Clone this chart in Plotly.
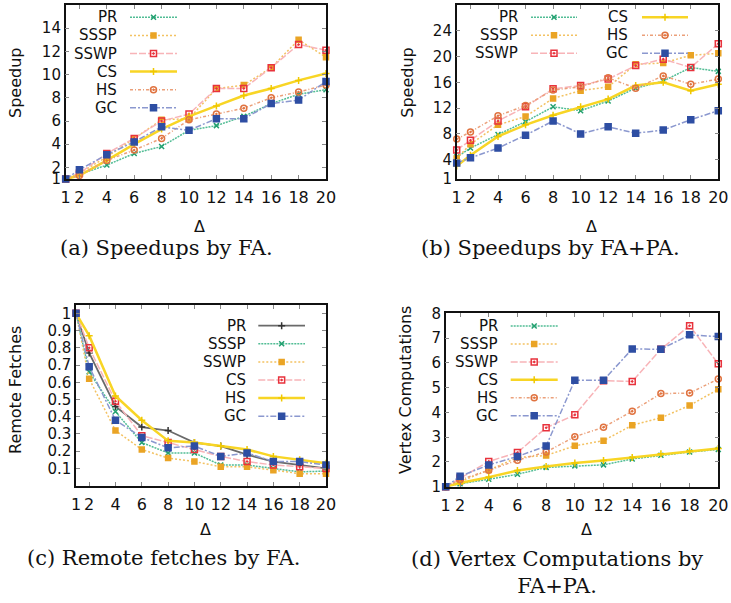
import plotly.graph_objects as go

W, H = 731, 603
delta = [1, 2, 4, 6, 8, 10, 12, 14, 16, 18, 20]
names_std = ["PR", "SSSP", "SSWP", "CS", "HS", "GC"]

# (a) Speedups by FA
a_PR = [1, 1.4, 2.2, 3.2, 3.8, 5.2, 5.6, 6.4, 7.5, 8.3, 8.7]
a_SSSP = [1, 1.5, 2.9, 4.5, 6.1, 6.2, 8.8, 9.1, 10.6, 13.0, 11.5]
a_SSWP = [1, 1.5, 3.2, 4.5, 6.0, 6.6, 8.8, 8.8, 10.6, 12.6, 12.1]
a_CS = [1, 1.3, 2.6, 4.0, 5.3, 6.4, 7.3, 8.2, 8.8, 9.5, 10.1]
a_HS = [1, 1.3, 2.6, 3.5, 4.5, 6.1, 6.6, 7.1, 8.0, 8.5, 9.1]
a_GC = [1, 1.8, 3.1, 4.2, 5.5, 5.2, 6.2, 6.2, 7.5, 7.8, 9.4]

# (b) Speedups by FA+PA
b_PR = [4.4, 5.8, 7.9, 9.9, 12.2, 11.6, 13.1, 15.1, 16.2, 18.3, 17.7]
b_SSSP = [4.2, 6.4, 9.4, 10.7, 13.5, 14.7, 15.3, 18.8, 19.0, 20.2, 20.5]
b_SSWP = [5.5, 7.0, 10.0, 12.2, 15.0, 15.5, 16.5, 18.6, 19.6, 18.3, 22.0]
b_CS = [3.0, 4.7, 7.6, 9.4, 10.9, 12.2, 13.4, 15.5, 16.0, 14.7, 15.7]
b_HS = [7.2, 8.3, 10.8, 12.4, 14.8, 15.3, 16.7, 15.1, 17.0, 15.7, 16.5]
b_GC = [3.5, 4.3, 5.8, 7.8, 10.0, 8.0, 9.1, 8.1, 8.6, 10.2, 11.6]

# (c) Remote fetches by FA
c_PR = [1.0, 0.77, 0.46, 0.34, 0.32, 0.25, 0.23, 0.18, 0.14, 0.12, 0.10]
c_SSSP = [1.0, 0.66, 0.43, 0.25, 0.19, 0.19, 0.12, 0.12, 0.10, 0.08, 0.085]
c_SSWP = [1.0, 0.62, 0.32, 0.21, 0.16, 0.14, 0.11, 0.11, 0.09, 0.07, 0.07]
c_CS = [1.0, 0.80, 0.49, 0.29, 0.25, 0.21, 0.17, 0.14, 0.12, 0.11, 0.10]
c_HS = [1.0, 0.87, 0.52, 0.38, 0.26, 0.25, 0.23, 0.21, 0.17, 0.15, 0.13]
c_GC = [1.0, 0.69, 0.38, 0.28, 0.22, 0.23, 0.17, 0.19, 0.14, 0.14, 0.12]

# (d) Vertex computations by FA+PA
d_PR = [1, 1.12, 1.3, 1.5, 1.78, 1.84, 1.88, 2.12, 2.27, 2.4, 2.5]
d_SSSP = [1, 1.2, 1.67, 2.18, 2.26, 2.65, 2.86, 3.48, 3.78, 4.28, 4.93]
d_SSWP = [1, 1.35, 2.02, 2.38, 3.38, 3.9, 5.28, 5.25, 6.55, 7.5, 5.96]
d_CS = [1, 1.15, 1.38, 1.65, 1.82, 1.96, 2.06, 2.18, 2.33, 2.44, 2.54]
d_HS = [1, 1.28, 1.66, 2.07, 2.4, 3.02, 3.4, 4.05, 4.76, 4.78, 5.35]
d_GC = [1, 1.42, 1.88, 2.22, 2.64, 5.3, 5.3, 6.56, 6.55, 7.13, 7.06]

captions = ["(a) Speedups by FA.", "(b) Speedups by FA+PA.",
            "(c) Remote fetches by FA.", "(d) Vertex Computations by<br>FA+PA."]
ytitles = ["Speedup", "Speedup", "Remote Fetches", "Vertex Computations"]

# styles
S = {
    "green": dict(lc="#52bd95", mc="#23a070", dash="2px,1px", sym="x-thin-open", ms=5, lw=1.5),
    "orange": dict(lc="#f3c262", mc="#eaa425", dash="2px,2px", sym="square", ms=5, lw=1.5),
    "red": dict(lc="#f8b4b8", mc="#e8323c", dash="7px,2px", sym="square-open-dot", ms=6, lw=1.5),
    "yellow": dict(lc="#f8d525", mc="#f0c800", dash="solid", sym="cross-thin-open", ms=5, lw=2.5),
    "hs": dict(lc="#eba07a", mc="#e07340", dash="3px,2px,1px,2px", sym="circle-open-dot", ms=6, lw=1.5),
    "blue": dict(lc="#8b98cf", mc="#2e4ea3", dash="6px,2px,2px,2px", sym="square", ms=6, lw=1.5),
    "gray": dict(lc="#6a6a6a", mc="#333333", dash="solid", sym="cross-thin-open", ms=5, lw=1.8),
}
std_styles = ["green", "orange", "red", "yellow", "hs", "blue"]
c_styles = ["gray", "green", "orange", "red", "yellow", "blue"]

panels = [
    dict(series=[a_PR, a_SSSP, a_SSWP, a_CS, a_HS, a_GC], styles=std_styles,
         px=(65.7, 326), py=(5, 179), yr=[1, 16], yt=[1, 2, 4, 6, 8, 10, 12, 14],
         leg=[(119, 130, 177, 17.3, 18.1, 0, 6)]),
    dict(series=[b_PR, b_SSSP, b_SSWP, b_CS, b_HS, b_GC], styles=std_styles,
         px=(456.7, 718.3), py=(5, 179), yr=[1, 28], yt=[1, 4, 8, 12, 16, 20, 24],
         leg=[(520, 531, 577, 17.3, 18.0, 0, 3), (630, 642, 688, 17.3, 18.0, 3, 6)]),
    dict(series=[c_PR, c_SSSP, c_SSWP, c_CS, c_HS, c_GC], styles=c_styles,
         px=(76, 326), py=(305, 485.7), yr=[0, 1.048],
         yt=[0.1, 0.2, 0.3, 0.4, 0.5, 0.6, 0.7, 0.8, 0.9, 1],
         leg=[(247.7, 258.3, 305, 325.7, 18.1, 0, 6)]),
    dict(series=[d_PR, d_SSSP, d_SSWP, d_CS, d_HS, d_GC], styles=std_styles,
         px=(445.7, 718.3), py=(313.3, 486.7), yr=[1, 8], yt=[1, 2, 3, 4, 5, 6, 7, 8],
         leg=[(500, 510.7, 557.7, 326, 17.95, 0, 6)]),
]

fig = go.Figure()
TF = dict(family="DejaVu Sans", size=16, color="#111111")
LF = dict(family="DejaVu Sans", size=15, color="#111111")
YTF = dict(family="DejaVu Sans", size=15, color="#111111")
annotations = []

layout = dict(
    width=W, height=H, margin=dict(l=0, r=0, t=0, b=0, autoexpand=False),
    paper_bgcolor="white", plot_bgcolor="rgba(0,0,0,0)", showlegend=False,
)

for i, p in enumerate(panels):
    k = i + 1
    xa = "xaxis" if k == 1 else f"xaxis{k}"
    ya = "yaxis" if k == 1 else f"yaxis{k}"
    xr = "x" if k == 1 else f"x{k}"
    yr_ = "y" if k == 1 else f"y{k}"
    x0, x1 = p["px"]
    y0, y1 = p["py"]
    layout[xa] = dict(domain=[x0 / W, x1 / W], anchor=yr_, range=[1, 20],
                      tickvals=delta, ticktext=[str(d) for d in delta], automargin=False,
                      showgrid=False, zeroline=False, showline=True, linecolor="#111111",
                      linewidth=1.5, mirror="ticks", ticks="inside", ticklen=4,
                      tickcolor="#888888", tickfont=TF, ticklabelstandoff=3)
    layout[ya] = dict(domain=[1 - y1 / H, 1 - y0 / H], anchor=xr, range=p["yr"],
                      tickvals=p["yt"], ticktext=[f"{v:g}" for v in p["yt"]], automargin=False,
                      showgrid=False, zeroline=False, showline=True, linecolor="#111111",
                      linewidth=1.5, mirror="ticks", ticks="inside", ticklen=4,
                      tickcolor="#888888", tickfont=YTF)
    names = names_std
    for name, vals, st in zip(names, p["series"], p["styles"]):
        s = S[st]
        fig.add_trace(go.Scatter(
            x=delta, y=vals, xaxis=xr, yaxis=yr_, mode="lines+markers", name=name,
            line=dict(color=s["lc"], width=s["lw"], dash=s["dash"]),
            marker=dict(symbol=s["sym"], size=s["ms"], color=s["mc"],
                        line=dict(color=s["mc"], width=1.5)),
            cliponaxis=False,
        ))
    # legend keys (on a pixel-space overlay axis)
    for (tx, lx0, lx1, ly0, dy, i0, i1) in p["leg"]:
        for j, idx in enumerate(range(i0, i1)):
            s = S[p["styles"][idx]]
            yy = ly0 + j * dy
            fig.add_trace(go.Scatter(
                x=[lx0, (lx0 + lx1) / 2, lx1], y=[yy, yy, yy], xaxis="x5", yaxis="y5",
                mode="lines+markers",
                line=dict(color=s["lc"], width=s["lw"], dash=s["dash"]),
                marker=dict(symbol=s["sym"], size=s["ms"], color=s["mc"], opacity=[0, 1, 0],
                            line=dict(color=s["mc"], width=[0, 1.5, 0])),
                hoverinfo="skip",
            ))
            annotations.append(dict(x=tx, y=yy, xref="x5", yref="y5", text=names[idx],
                                    showarrow=False, xanchor="right", yanchor="middle",
                                    font=LF))
    # axis titles
    annotations.append(dict(x=(15 if i in (0, 2) else (406.7 if i == 1 else 405)),
                            y=(83 if i < 2 else 390), xref="x5", yref="y5",
                            text=ytitles[i], textangle=-90, showarrow=False,
                            xanchor="center", yanchor="middle", font=TF))
    annotations.append(dict(x=(x0 + x1) / 2 + 4, y=(226 if i < 2 else 529), xref="x5", yref="y5",
                            text="Δ", showarrow=False, xanchor="center", yanchor="middle",
                            font=TF))

cap_pos = [(166, 248), (550, 248), (164, 558), (557, 572)]
for (cx, cy), cap in zip(cap_pos, captions):
    annotations.append(dict(x=cx, y=cy, xref="x5", yref="y5", text=cap, showarrow=False,
                            xanchor="center", yanchor="middle",
                            font=dict(family="DejaVu Serif", size=21, color="#111111")))

layout["xaxis5"] = dict(domain=[0, 1], range=[0, W], anchor="y5", visible=False,
                        fixedrange=True, automargin=False)
layout["yaxis5"] = dict(domain=[0, 1], range=[H, 0], anchor="x5", visible=False,
                        fixedrange=True, automargin=False)
layout["annotations"] = annotations
fig.update_layout(**layout)
fig.write_html("out.html", config={"displayModeBar": False},
               post_script="document.body.style.margin='0px';document.body.style.overflow='hidden';")
